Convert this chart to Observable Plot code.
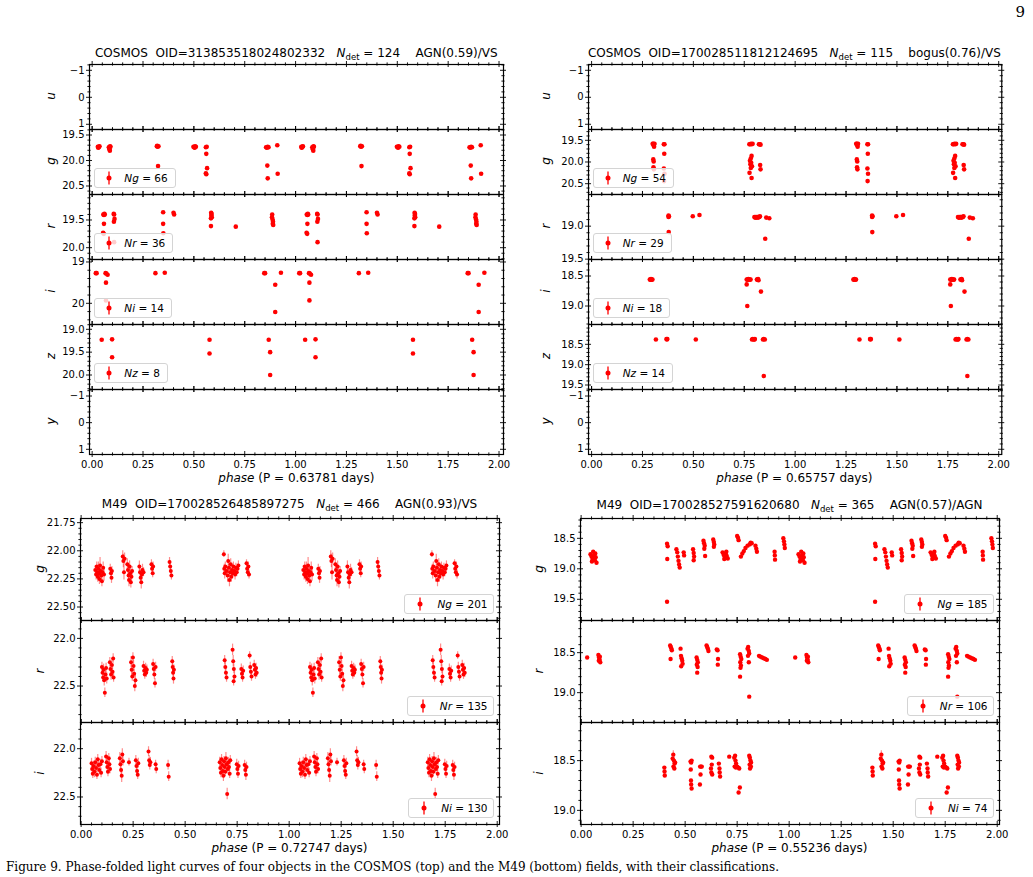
<!DOCTYPE html>
<html>
<head>
<meta charset="utf-8">
<script src="https://cdn.jsdelivr.net/npm/d3@7"></script>
<script src="https://cdn.jsdelivr.net/npm/@observablehq/plot@0.6"></script>
<style>
html,body{margin:0;padding:0;background:#fff;}
#page{position:relative;width:1033px;height:877px;overflow:hidden;background:#fff;font-family:"DejaVu Sans",sans-serif;color:#000;}
.t{position:absolute;white-space:pre;line-height:1;}
.title{font-size:12px;transform:translate(-50%,-50%);}
.title sub{font-size:8.5px;vertical-align:-3px;line-height:0;}
.xlab{font-size:12px;transform:translate(-50%,-50%);}
.ylab{font-size:12px;font-style:italic;transform:translate(-50%,-50%) rotate(-90deg);}
.leg{position:absolute;box-sizing:border-box;height:20px;border:1px solid #d4d4d4;border-radius:3px;background:rgba(255,255,255,0.8);display:flex;align-items:center;font-size:10.5px;white-space:pre;}
.leg svg{display:block;}
.pageno{position:absolute;right:8px;top:3px;font-family:"DejaVu Serif",serif;font-size:15px;}
.caption{position:absolute;left:6px;top:861px;font-family:"DejaVu Serif",serif;font-size:12px;line-height:1.1;white-space:pre;}
</style>
</head>
<body>
<div id="page"></div>
<script>
// ================= DATA =================
const xTickValues = [0, 0.25, 0.5, 0.75, 1, 1.25, 1.5, 1.75, 2];
const xTickLabels = ["0.00","0.25","0.50","0.75","1.00","1.25","1.50","1.75","2.00"];

// Titles
const titleFields = ["COSMOS", "COSMOS", "M49", "M49"];
const titleOIDs = ["313853518024802332", "170028511812124695", "170028526485897275", "170028527591620680"];
const titleNdet = [124, 115, 466, 365];
const titleClass = ["AGN(0.59)/VS", "bogus(0.76)/VS", "AGN(0.93)/VS", "AGN(0.57)/AGN"];
const periods = ["0.63781", "0.65757", "0.72747", "0.55236"];

// Band names
const bandsTop = ["u", "g", "r", "i", "z", "y"];
const bandsBottom = ["g", "r", "i"];

// Detection counts per band (legend)
const countsA = {g: 66, r: 36, i: 14, z: 8};
const countsB = {g: 54, r: 29, i: 18, z: 14};
const countsC = {g: 201, r: 135, i: 130};
const countsD = {g: 185, r: 106, i: 74};

// Y tick values and labels
const emptyTicks = [-1, 0, 1];
const emptyLabels = ["\u22121", "0", "1"];
const A_gTicks = [19.5, 20, 20.5], A_gLabels = ["19.5", "20.0", "20.5"];
const A_rTicks = [19.5, 20], A_rLabels = ["19.5", "20.0"];
const A_iTicks = [19, 20], A_iLabels = ["19", "20"];
const A_zTicks = [19, 19.5, 20], A_zLabels = ["19.0", "19.5", "20.0"];
const B_gTicks = [19.5, 20, 20.5], B_gLabels = ["19.5", "20.0", "20.5"];
const B_rTicks = [19, 19.5], B_rLabels = ["19.0", "19.5"];
const B_iTicks = [18.5, 19], B_iLabels = ["18.5", "19.0"];
const B_zTicks = [18.5, 19, 19.5], B_zLabels = ["18.5", "19.0", "19.5"];
const C_gTicks = [21.75, 22, 22.25, 22.5], C_gLabels = ["21.75", "22.00", "22.25", "22.50"];
const C_rTicks = [22, 22.5], C_rLabels = ["22.0", "22.5"];
const C_iTicks = [22, 22.5], C_iLabels = ["22.0", "22.5"];
const D_gTicks = [18.5, 19, 19.5], D_gLabels = ["18.5", "19.0", "19.5"];
const D_rTicks = [18.5, 19], D_rLabels = ["18.5", "19.0"];
const D_iTicks = [18.5, 19], D_iLabels = ["18.5", "19.0"];

// ---- Panel A: COSMOS OID=313853518024802332 (phase, mag) ----
const A_g = [[0.028,19.73],[0.032,19.74],[0.036,19.72],[0.030,19.75],[0.034,19.73],
 [0.082,19.74],[0.086,19.75],[0.090,19.73],[0.088,19.72],[0.087,19.81],[0.085,19.78],
 [0.318,19.72],[0.322,19.73],[0.326,19.72],[0.320,19.71],[0.324,20.11],
 [0.498,19.73],[0.502,19.74],[0.506,19.72],[0.510,19.73],[0.504,19.75],
 [0.559,19.74],[0.563,19.73],[0.561,19.87],[0.565,20.15],[0.559,20.25],[0.561,20.27],
 [0.855,19.74],[0.859,19.75],[0.863,19.73],[0.867,19.74],[0.861,20.10],[0.863,20.35],
 [0.910,19.70],[0.912,20.26]];
const A_r = [[0.055,19.40],[0.058,19.41],[0.060,19.39],[0.062,19.40],[0.058,19.57],[0.054,19.73],[0.057,19.75],
 [0.106,19.39],[0.108,19.40],[0.110,19.48],[0.107,19.53],[0.108,19.90],
 [0.349,19.36],[0.349,19.57],[0.350,19.74],
 [0.400,19.37],[0.403,19.40],
 [0.585,19.37],[0.587,19.39],[0.586,19.42],[0.588,19.45],[0.584,19.47],[0.584,19.61],
 [0.706,19.62],
 [0.885,19.40],[0.884,19.45],[0.887,19.49],[0.889,19.53],[0.888,19.57],[0.890,19.59]];
const A_i = [[0.018,19.27],[0.022,19.27],[0.066,19.27],[0.070,19.28],[0.076,19.31],[0.068,19.50],[0.068,19.93],
 [0.311,19.27],[0.357,19.26],[0.846,19.27],[0.850,19.27],[0.900,19.55],[0.900,20.21],[0.928,19.26]];
const A_z = [[0.047,19.23],[0.098,19.22],[0.098,19.61],[0.577,19.23],[0.577,19.53],[0.868,19.23],[0.875,19.50],[0.875,20.0]];

// ---- Panel B: COSMOS OID=170028511812124695 (phase, mag) ----
const B_g = [[0.300,19.58],[0.303,19.58],[0.306,19.59],[0.309,19.58],[0.304,19.61],[0.307,19.65],[0.303,19.94],[0.305,19.99],[0.304,20.12],[0.306,20.17],
 [0.355,19.59],[0.358,19.59],[0.357,19.81],[0.355,20.15],[0.358,20.27],[0.356,20.44],
 [0.775,19.59],[0.779,19.59],[0.783,19.58],[0.787,19.59],[0.791,19.58],[0.786,19.86],[0.782,19.92],[0.778,19.97],[0.784,20.02],[0.780,20.05],[0.788,20.10],[0.782,20.14],[0.776,20.25],[0.786,20.37],
 [0.822,19.59],[0.826,19.59],[0.830,19.60],[0.828,20.07],[0.830,20.17]];
const B_r = [[0.378,18.84],[0.380,18.85],[0.378,18.86],[0.379,19.09],[0.497,18.85],[0.530,18.83],
 [0.800,18.86],[0.803,18.87],[0.806,18.86],[0.809,18.87],[0.812,18.86],[0.815,18.86],[0.818,18.87],[0.821,18.86],[0.824,18.86],[0.827,18.85],
 [0.853,19.19],[0.858,18.87],[0.873,18.88]];
const B_i = [[0.286,18.56],[0.290,18.56],[0.295,18.56],[0.299,18.56],[0.292,18.55],
 [0.762,18.56],[0.767,18.56],[0.772,18.56],[0.777,18.56],[0.781,18.56],[0.770,18.55],[0.762,18.64],[0.765,19.00],
 [0.812,18.56],[0.816,18.56],[0.820,18.57],[0.818,18.55],[0.832,18.76]];
const B_z = [[0.316,18.38],[0.368,18.37],[0.372,18.37],[0.370,18.38],[0.512,18.38],
 [0.788,18.38],[0.792,18.37],[0.797,18.38],[0.802,18.37],[0.800,18.38],
 [0.842,18.38],[0.846,18.37],[0.851,18.38],[0.846,19.28]];

// ---- Panel C: M49 OID=170028526485897275 (phase, mag, err) ----
const C_g = [[0.068,22.17,0.04],[0.072,22.21,0.05],[0.075,22.14,0.04],[0.078,22.19,0.05],[0.080,22.23,0.05],[0.083,22.16,0.06],[0.086,22.20,0.04],[0.088,22.25,0.05],[0.091,22.13,0.07],[0.094,22.18,0.05],[0.097,22.22,0.06],[0.100,22.27,0.05],[0.103,22.19,0.04],[0.106,22.15,0.05],[0.110,22.21,0.06],
 [0.140,22.16,0.04],[0.143,22.20,0.05],[0.146,22.24,0.05],[0.148,22.18,0.04],
 [0.200,22.05,0.05],[0.203,22.09,0.06],[0.206,22.19,0.07],[0.209,22.07,0.05],
 [0.222,22.12,0.05],[0.225,22.17,0.06],[0.228,22.22,0.05],[0.230,22.26,0.06],[0.233,22.14,0.05],[0.236,22.20,0.07],[0.239,22.28,0.05],[0.242,22.23,0.05],[0.245,22.18,0.04],
 [0.280,22.14,0.05],[0.283,22.19,0.06],[0.286,22.24,0.05],[0.289,22.28,0.06],[0.292,22.21,0.05],[0.295,22.17,0.05],[0.300,22.19,0.04],
 [0.338,22.12,0.04],[0.341,22.16,0.05],[0.344,22.20,0.04],[0.346,22.14,0.04],
 [0.425,22.10,0.04],[0.428,22.14,0.05],[0.431,22.18,0.05],[0.434,22.22,0.04],
 [0.686,22.03,0.03],[0.688,22.16,0.04],[0.690,22.20,0.05],[0.693,22.14,0.04],
 [0.700,22.18,0.05],[0.704,22.22,0.06],[0.707,22.09,0.06],[0.710,22.15,0.05],[0.713,22.26,0.06],[0.716,22.19,0.04],[0.719,22.12,0.05],[0.722,22.23,0.05],[0.725,22.17,0.04],[0.728,22.20,0.05],[0.732,22.14,0.04],[0.736,22.18,0.04],[0.740,22.21,0.05],[0.744,22.15,0.04],[0.748,22.19,0.04],[0.752,22.16,0.04],[0.756,22.13,0.04],
 [0.795,22.11,0.03],[0.798,22.16,0.04],[0.801,22.19,0.04],[0.804,22.14,0.04],[0.807,22.21,0.04]];
const C_r = [[0.100,22.30,0.05],[0.103,22.36,0.06],[0.106,22.41,0.05],[0.108,22.33,0.06],[0.111,22.44,0.06],[0.114,22.57,0.05],[0.117,22.38,0.05],[0.120,22.31,0.05],[0.123,22.42,0.06],
 [0.138,22.25,0.05],[0.141,22.32,0.05],[0.144,22.38,0.06],[0.148,22.28,0.05],[0.151,22.35,0.05],[0.154,22.21,0.05],[0.156,22.41,0.05],
 [0.240,22.25,0.06],[0.243,22.33,0.06],[0.246,22.40,0.05],[0.249,22.20,0.05],[0.252,22.29,0.06],[0.255,22.37,0.05],[0.258,22.50,0.06],[0.261,22.44,0.05],
 [0.300,22.29,0.05],[0.303,22.34,0.06],[0.306,22.38,0.05],[0.310,22.31,0.05],[0.313,22.36,0.05],[0.316,22.33,0.05],
 [0.346,22.27,0.05],[0.349,22.32,0.05],[0.352,22.38,0.05],[0.355,22.47,0.05],[0.358,22.30,0.05],
 [0.438,22.24,0.05],[0.440,22.30,0.06],[0.442,22.36,0.05],[0.444,22.42,0.06],[0.446,22.33,0.05],
 [0.690,22.23,0.05],[0.693,22.30,0.06],[0.696,22.36,0.05],[0.699,22.41,0.05],
 [0.728,22.12,0.06],[0.731,22.24,0.06],[0.734,22.32,0.05],[0.737,22.40,0.06],[0.733,22.45,0.05],
 [0.770,22.32,0.05],[0.773,22.37,0.06],[0.776,22.41,0.05],[0.779,22.34,0.05],
 [0.810,22.18,0.04],[0.813,22.30,0.05],[0.816,22.35,0.05],[0.819,22.40,0.05],
 [0.832,22.28,0.05],[0.835,22.33,0.05],[0.838,22.38,0.05],[0.841,22.31,0.05],[0.844,22.36,0.05]];
const C_i = [[0.050,22.15,0.05],[0.053,22.21,0.06],[0.056,22.26,0.05],[0.060,22.18,0.05],[0.064,22.24,0.06],[0.068,22.14,0.05],[0.072,22.20,0.05],[0.076,22.27,0.05],[0.080,22.11,0.05],[0.083,22.17,0.06],[0.087,22.22,0.05],[0.092,22.16,0.05],[0.096,22.25,0.05],[0.100,22.13,0.05],
 [0.120,22.08,0.05],[0.123,22.14,0.05],[0.126,22.19,0.06],[0.129,22.24,0.05],[0.133,22.10,0.05],[0.136,22.16,0.05],[0.139,22.21,0.05],
 [0.186,22.10,0.06],[0.189,22.16,0.07],[0.192,22.22,0.06],[0.195,22.28,0.07],[0.198,22.06,0.06],[0.201,22.13,0.05],
 [0.230,22.14,0.04],
 [0.263,22.12,0.05],[0.266,22.18,0.05],[0.269,22.23,0.05],[0.272,22.27,0.05],[0.275,22.15,0.05],
 [0.324,22.03,0.05],[0.327,22.12,0.05],[0.330,22.17,0.05],[0.333,22.14,0.05],
 [0.358,22.16,0.04],[0.361,22.21,0.05],
 [0.418,22.17,0.05],[0.421,22.29,0.05],
 [0.666,22.14,0.05],[0.669,22.20,0.06],[0.672,22.25,0.05],[0.675,22.11,0.05],[0.678,22.17,0.06],[0.681,22.23,0.05],[0.684,22.28,0.06],[0.687,22.13,0.05],[0.690,22.19,0.06],[0.693,22.24,0.05],[0.696,22.10,0.06],[0.699,22.16,0.05],[0.702,22.47,0.06],[0.705,22.21,0.05],[0.708,22.14,0.05],[0.711,22.19,0.05],[0.714,22.26,0.05],[0.717,22.12,0.05],
 [0.748,22.16,0.05],[0.751,22.21,0.05],[0.754,22.26,0.05],[0.757,22.18,0.05],
 [0.786,22.17,0.05],[0.789,22.22,0.05],[0.792,22.27,0.06],[0.795,22.19,0.05]];

// ---- Panel D: M49 OID=170028527591620680 (phase, mag[, err]) ----
const D_g = [[0.045,18.76],[0.050,18.80],[0.055,18.84],[0.058,18.72],[0.062,18.78],[0.066,18.86],[0.070,18.81],[0.074,18.90],[0.052,18.88],[0.068,18.75],
 [0.413,18.59],[0.416,18.63],[0.414,18.84],[0.413,19.54],
 [0.458,18.68],[0.462,18.73],[0.465,18.80],[0.468,18.87],[0.471,18.93],[0.474,18.98],
 [0.493,18.73],[0.495,18.78],
 [0.538,18.68],[0.541,18.74],[0.543,18.80],[0.541,18.86],
 [0.588,18.54],[0.591,18.58],[0.594,18.62],[0.592,18.67],[0.596,18.79],
 [0.635,18.52],[0.638,18.56],[0.640,18.60],[0.638,18.64],
 [0.680,18.73],[0.685,18.77],[0.690,18.80],[0.695,18.75],[0.700,18.79],[0.705,18.83],[0.688,18.84],[0.698,18.72],[0.692,18.77],
 [0.750,18.46],[0.754,18.49],[0.757,18.53],
 [0.768,18.80],[0.775,18.75],[0.782,18.71],[0.790,18.66],[0.800,18.62],[0.810,18.60],[0.815,18.57],[0.820,18.58],
 [0.838,18.62],[0.842,18.67],[0.845,18.72],
 [0.930,18.72],[0.931,18.78],[0.932,18.85],
 [0.972,18.50],[0.975,18.55],[0.977,18.60],[0.979,18.66]];
const D_r = [[0.029,18.56],
 [0.083,18.53],[0.086,18.56],[0.089,18.59],[0.092,18.62],[0.085,18.60],[0.090,18.55],
 [0.428,18.41],[0.431,18.43],[0.434,18.45],[0.436,18.47],[0.430,18.58],
 [0.478,18.45],[0.480,18.54],[0.483,18.57],[0.486,18.60],[0.488,18.64],[0.481,18.67],
 [0.555,18.56],[0.558,18.59],[0.561,18.62],[0.556,18.65],[0.560,18.68],[0.558,18.75],
 [0.603,18.41],[0.606,18.43],[0.609,18.45],[0.612,18.48],
 [0.652,18.46],[0.656,18.47],[0.658,18.58],[0.657,18.65],
 [0.764,18.52],[0.767,18.55],[0.770,18.58],[0.765,18.62],[0.768,18.66],[0.766,18.69],[0.764,18.80],
 [0.800,18.45],[0.803,18.43],[0.806,18.48],[0.808,18.51],[0.802,18.54],[0.806,18.62],[0.808,19.05],
 [0.855,18.54],[0.862,18.55],[0.870,18.56],[0.878,18.57],[0.886,18.58],[0.893,18.59]];
const D_i = [[0.400,18.57],[0.401,18.61],[0.402,18.65],
 [0.440,18.48],[0.443,18.44,0.04],[0.446,18.50],[0.449,18.53],[0.444,18.56],[0.448,18.58],[0.452,18.52],
 [0.526,18.51],[0.529,18.52],[0.531,18.50],[0.527,18.59],[0.528,18.70],[0.529,18.74],[0.531,18.78],
 [0.572,18.56],[0.576,18.56],[0.580,18.56],[0.574,18.64],[0.571,18.74],
 [0.626,18.46],[0.630,18.47],[0.628,18.54],[0.624,18.58],[0.626,18.62],[0.630,18.64],
 [0.662,18.53],[0.665,18.58],[0.666,18.62],[0.668,18.66],
 [0.712,18.46],
 [0.736,18.47],[0.740,18.45],[0.742,18.50],[0.745,18.53],[0.738,18.56],[0.744,18.57],[0.750,18.56],[0.756,18.57],[0.760,18.58],
 [0.757,18.82],[0.763,18.77],
 [0.808,18.45],[0.811,18.47],[0.814,18.50],[0.817,18.52],[0.810,18.54],[0.816,18.56],[0.812,18.58]];

const pageNumber = "9";
const captionText = "Figure 9. Phase-folded light curves of four objects in the COSMOS (top) and the M49 (bottom) fields, with their classifications.";

// ================= LAYOUT / DRAWING =================
const page = document.getElementById("page");
const RED = "#ff0000";
const FONT = '"DejaVu Sans", sans-serif';

function addText(cls, html, x, y) {
  const d = document.createElement("div");
  d.className = "t " + cls;
  d.style.left = x + "px"; d.style.top = y + "px";
  d.innerHTML = html;
  page.appendChild(d);
  return d;
}

function addLegend(band, n, frame, side) {
  const d = document.createElement("div");
  d.className = "leg";
  const top = frame.fb - 6 - 20;
  d.style.top = top + "px";
  if (side === "left") { d.style.left = (frame.fl + 5) + "px"; d.style.paddingLeft = "8px"; d.style.paddingRight = "7px"; }
  else { d.style.right = (1033 - frame.fr + 5.5) + "px"; d.style.paddingLeft = "9px"; d.style.paddingRight = "5px"; }
  const gap = side === "left" ? 9 : 11;
  d.innerHTML = `<svg width="12" height="16"><line x1="6" x2="6" y1="1.5" y2="14.5" stroke="${RED}" stroke-width="1.3"/><circle cx="6" cy="8" r="2.5" fill="${RED}"/></svg><span style="margin-left:${gap}px"><i>N${band}</i> = ${n}</span>`;
  page.appendChild(d);
}

function subplot(o) {
  const w = o.fr - o.fl, h = o.fb - o.ft;
  const ml = 50, mr = 10, mt = 10, mb = o.showX ? 28 : 10;
  const lo = Math.min(...o.yDom), hi = Math.max(...o.yDom);
  const inY = v => v >= lo - 1e-9 && v <= hi + 1e-9;
  const majorY = o.yTicks.filter(inY);
  const minorY = d3.range(Math.ceil(lo / o.minor - 1e-6), Math.floor(hi / o.minor + 1e-6) + 1)
    .map(k => +(k * o.minor).toFixed(4))
    .filter(v => inY(v) && !o.yTicks.some(t => Math.abs(t - v) < 1e-6));
  const xMinor = d3.range(0, 41).map(k => +(k * 0.05).toFixed(2))
    .filter(v => !xTickValues.some(t => Math.abs(t - v) < 1e-6));
  const rows = (o.pts || []).flatMap(([p, m, e]) => [{p, m, e: e || 0}, {p: p + 1, m, e: e || 0}]);
  const errRows = rows.filter(d => d.e > 0).map(d => ({p: d.p, lo: d.m - d.e, hi: d.m + d.e}));
  const fmt = new Map(o.yTicks.map((t, i) => [t, o.yLabels[i]]));
  const xfmt = new Map(xTickValues.map((t, i) => [t, xTickLabels[i]]));
  const T = 3, t = 1.6, tk = {stroke: "#000", strokeWidth: 0.9};
  const marks = [
    Plot.ruleX(errRows, {x: "p", y1: "lo", y2: "hi", stroke: RED, strokeOpacity: 0.45, strokeWidth: 1.2}),
    Plot.dot(rows, {x: "p", y: "m", r: o.r, fill: RED}),
    Plot.ruleY(majorY, {y: d => d, insetLeft: -T, insetRight: w - T, ...tk}),
    Plot.ruleY(majorY, {y: d => d, insetLeft: w - T, insetRight: -T, ...tk}),
    Plot.ruleY(minorY, {y: d => d, insetLeft: -t, insetRight: w - t, ...tk}),
    Plot.ruleY(minorY, {y: d => d, insetLeft: w - t, insetRight: -t, ...tk}),
    Plot.ruleX(xTickValues, {x: d => d, insetTop: -T, insetBottom: h - T, ...tk}),
    Plot.ruleX(xTickValues, {x: d => d, insetTop: h - T, insetBottom: -T, ...tk}),
    Plot.ruleX(xMinor, {x: d => d, insetTop: -t, insetBottom: h - t, ...tk}),
    Plot.ruleX(xMinor, {x: d => d, insetTop: h - t, insetBottom: -t, ...tk}),
    Plot.frame({stroke: "#000", strokeWidth: 1.2}),
    Plot.axisY({ticks: majorY, tickFormat: d => fmt.get(d), tickSize: 0, tickPadding: 5, label: null, fontSize: 10})
  ];
  if (o.showX) marks.push(Plot.axisX({ticks: xTickValues, tickFormat: d => xfmt.get(d), tickSize: 0, tickPadding: 6, label: null, fontSize: 10}));
  const svg = Plot.plot({
    width: w + ml + mr, height: h + mt + mb,
    marginLeft: ml, marginRight: mr, marginTop: mt, marginBottom: mb,
    x: o.showX ? {domain: o.xDom} : {domain: o.xDom, axis: null},
    y: {domain: o.yDom},
    style: {background: "transparent", overflow: "visible", fontFamily: FONT, fontSize: "10px", color: "#000"},
    marks
  });
  svg.style.position = "absolute";
  svg.style.left = (o.fl - ml) + "px";
  svg.style.top = (o.ft - mt) + "px";
  svg.style.maxWidth = "none";
  page.appendChild(svg);
}

const panels = [
  {fl: 89.3, fr: 503.3, xDom: [-0.013, 2.022], top: 63.5, rowH: 65, titleY: 52.7, xlabY: 478.3, ylabX: 51, side: "left", r: 2.3,
   rows: [
     {band: bandsTop[0], dom: [1.193, -1.215], ticks: emptyTicks, labels: emptyLabels, minor: 0.2, pts: null},
     {band: bandsTop[1], dom: [20.667, 19.392], ticks: A_gTicks, labels: A_gLabels, minor: 0.1, pts: A_g, n: countsA.g},
     {band: bandsTop[2], dom: [20.213, 19.04], ticks: A_rTicks, labels: A_rLabels, minor: 0.1, pts: A_r, n: countsA.r},
     {band: bandsTop[3], dom: [20.513, 18.94], ticks: A_iTicks, labels: A_iLabels, minor: 0.2, pts: A_i, n: countsA.i},
     {band: bandsTop[4], dom: [20.317, 18.895], ticks: A_zTicks, labels: A_zLabels, minor: 0.1, pts: A_z, n: countsA.z},
     {band: bandsTop[5], dom: [1.195, -1.244], ticks: emptyTicks, labels: emptyLabels, minor: 0.2, pts: null}
   ]},
  {fl: 587.7, fr: 1001, xDom: [-0.015, 2.015], top: 63.5, rowH: 65, titleY: 52.7, xlabY: 478.3, ylabX: 546, side: "left", r: 2.3,
   rows: [
     {band: bandsTop[0], dom: [1.193, -1.215], ticks: emptyTicks, labels: emptyLabels, minor: 0.2, pts: null},
     {band: bandsTop[1], dom: [20.749, 19.251], ticks: B_gTicks, labels: B_gLabels, minor: 0.1, pts: B_g, n: countsB.g},
     {band: bandsTop[2], dom: [19.505, 18.52], ticks: B_rTicks, labels: B_rLabels, minor: 0.1, pts: B_r, n: countsB.r},
     {band: bandsTop[3], dom: [19.308, 18.225], ticks: B_iTicks, labels: B_iLabels, minor: 0.1, pts: B_i, n: countsB.i},
     {band: bandsTop[4], dom: [19.61, 18.013], ticks: B_zTicks, labels: B_zLabels, minor: 0.1, pts: B_z, n: countsB.z},
     {band: bandsTop[5], dom: [1.195, -1.244], ticks: emptyTicks, labels: emptyLabels, minor: 0.2, pts: null}
   ]},
  {fl: 80, fr: 499, xDom: [-0.003, 2.011], top: 517.5, rowH: 102, titleY: 504, xlabY: 848.3, ylabX: 40, side: "right", r: 2,
   rows: [
     {band: bandsBottom[0], dom: [22.62, 21.713], ticks: C_gTicks, labels: C_gLabels, minor: 0.05, pts: C_g, n: countsC.g},
     {band: bandsBottom[1], dom: [22.883, 21.812], ticks: C_rTicks, labels: C_rLabels, minor: 0.1, pts: C_r, n: countsC.r},
     {band: bandsBottom[2], dom: [22.785, 21.729], ticks: C_iTicks, labels: C_iLabels, minor: 0.1, pts: C_i, n: countsC.i}
   ]},
  {fl: 580, fr: 999, xDom: [-0.003, 2.011], top: 517.5, rowH: 102, titleY: 504.5, xlabY: 848.3, ylabX: 539, side: "right", r: 2.2,
   rows: [
     {band: bandsBottom[0], dom: [19.848, 18.175], ticks: D_gTicks, labels: D_gLabels, minor: 0.1, pts: D_g, n: countsD.g},
     {band: bandsBottom[1], dom: [19.373, 18.098], ticks: D_rTicks, labels: D_rLabels, minor: 0.1, pts: D_r, n: countsD.r},
     {band: bandsBottom[2], dom: [19.142, 18.117], ticks: D_iTicks, labels: D_iLabels, minor: 0.1, pts: D_i, n: countsD.i}
   ]}
];

panels.forEach((P, pi) => {
  const nRows = P.rows.length;
  P.rows.forEach((R, ri) => {
    const ft = P.top + ri * P.rowH, fb = ft + P.rowH;
    const frame = {fl: P.fl, fr: P.fr, ft, fb};
    subplot({...frame, xDom: P.xDom, yDom: R.dom, yTicks: R.ticks, yLabels: R.labels, minor: R.minor, pts: R.pts, r: P.r, showX: ri === nRows - 1});
    addText("ylab", R.band, P.ylabX, (ft + fb) / 2);
    if (R.pts) addLegend(R.band, R.n, frame, P.side);
  });
  const cx = (P.fl + P.fr) / 2;
  addText("title", `${titleFields[pi]}  OID=${titleOIDs[pi]}   <i>N</i><sub>det</sub> = ${titleNdet[pi]}    ${titleClass[pi]}`, cx, P.titleY);
  addText("xlab", `<i>phase</i> (P = ${periods[pi]} days)`, cx, P.xlabY);
});

const pn = document.createElement("div"); pn.className = "pageno"; pn.textContent = pageNumber; page.appendChild(pn);
const cap = document.createElement("div"); cap.className = "caption"; cap.textContent = captionText; page.appendChild(cap);
</script>
</body>
</html>
